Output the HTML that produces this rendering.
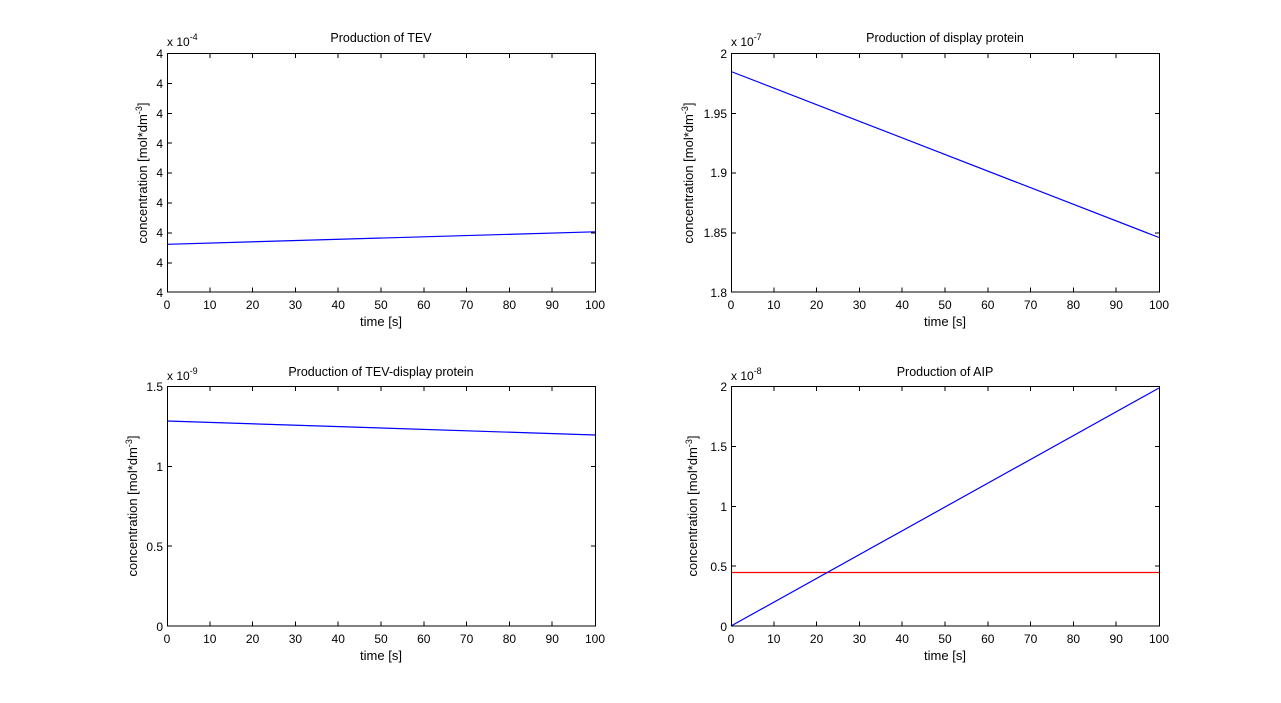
<!DOCTYPE html>
<html>
<head>
<meta charset="utf-8">
<style>
  html, body { margin: 0; padding: 0; background: #ffffff; }
  svg { display: block; }
  text { font-family: "Liberation Sans", Arial, sans-serif; fill: #000; }
  .tk { font-size: 12px; }
  .lb { font-size: 13px; }
  .ttl { font-size: 12.5px; }
</style>
</head>
<body>
<svg width="1281" height="703" viewBox="0 0 1281 703" xmlns="http://www.w3.org/2000/svg">
  <rect x="0" y="0" width="1281" height="703" fill="#ffffff"/>

  <!-- ============ TOP LEFT ============ -->
  <g>
    <text class="ttl" x="381" y="42" text-anchor="middle">Production of TEV</text>
    <text class="tk" x="167" y="46">x 10<tspan font-size="9" dy="-6">-4</tspan></text>
    <!-- data -->
    <polyline points="167,244.3 595,231.8" fill="none" stroke="#0000ff" stroke-width="1.2"/>
    <g stroke="#000" stroke-width="1" shape-rendering="crispEdges" fill="none">
      <rect x="167.5" y="53.5" width="428" height="238.5"/>
      <!-- x ticks -->
      <path d="M209.8,292 v-4.5 M252.6,292 v-4.5 M295.4,292 v-4.5 M338.2,292 v-4.5 M381,292 v-4.5 M423.8,292 v-4.5 M466.6,292 v-4.5 M509.4,292 v-4.5 M552.2,292 v-4.5
               M209.8,53.5 v4.5 M252.6,53.5 v4.5 M295.4,53.5 v4.5 M338.2,53.5 v4.5 M381,53.5 v4.5 M423.8,53.5 v4.5 M466.6,53.5 v4.5 M509.4,53.5 v4.5 M552.2,53.5 v4.5"/>
      <!-- y ticks -->
      <path d="M167.5,83.4 h4.5 M167.5,113.3 h4.5 M167.5,143.2 h4.5 M167.5,173.1 h4.5 M167.5,203 h4.5 M167.5,232.9 h4.5 M167.5,262.8 h4.5
               M595.5,83.4 h-4.5 M595.5,113.3 h-4.5 M595.5,143.2 h-4.5 M595.5,173.1 h-4.5 M595.5,203 h-4.5 M595.5,232.9 h-4.5 M595.5,262.8 h-4.5"/>
    </g>
    <g class="tk" text-anchor="end">
      <text x="163" y="58">4</text>
      <text x="163" y="88">4</text>
      <text x="163" y="118">4</text>
      <text x="163" y="148">4</text>
      <text x="163" y="177">4</text>
      <text x="163" y="207">4</text>
      <text x="163" y="237">4</text>
      <text x="163" y="267">4</text>
      <text x="163" y="297">4</text>
    </g>
    <g class="tk" text-anchor="middle">
      <text x="167" y="309">0</text>
      <text x="209.8" y="309">10</text>
      <text x="252.6" y="309">20</text>
      <text x="295.4" y="309">30</text>
      <text x="338.2" y="309">40</text>
      <text x="381" y="309">50</text>
      <text x="423.8" y="309">60</text>
      <text x="466.6" y="309">70</text>
      <text x="509.4" y="309">80</text>
      <text x="552.2" y="309">90</text>
      <text x="595" y="309">100</text>
    </g>
    <text class="lb" x="381" y="326" text-anchor="middle">time [s]</text>
    <text class="lb" transform="translate(147,173) rotate(-90)" text-anchor="middle">concentration [mol*dm<tspan font-size="9" dy="-5">-3</tspan><tspan dy="5">]</tspan></text>
  </g>

  <!-- ============ TOP RIGHT ============ -->
  <g>
    <text class="ttl" x="945" y="42" text-anchor="middle">Production of display protein</text>
    <text class="tk" x="731" y="46">x 10<tspan font-size="9" dy="-6">-7</tspan></text>
    <polyline points="731,71.5 1159,237.5" fill="none" stroke="#0000ff" stroke-width="1.2"/>
    <g stroke="#000" stroke-width="1" shape-rendering="crispEdges" fill="none">
      <rect x="731.5" y="53.5" width="428" height="238.5"/>
      <path d="M773.8,292 v-4.5 M816.6,292 v-4.5 M859.4,292 v-4.5 M902.2,292 v-4.5 M945,292 v-4.5 M987.8,292 v-4.5 M1030.6,292 v-4.5 M1073.4,292 v-4.5 M1116.2,292 v-4.5
               M773.8,53.5 v4.5 M816.6,53.5 v4.5 M859.4,53.5 v4.5 M902.2,53.5 v4.5 M945,53.5 v4.5 M987.8,53.5 v4.5 M1030.6,53.5 v4.5 M1073.4,53.5 v4.5 M1116.2,53.5 v4.5"/>
      <path d="M731.5,113.3 h4.5 M731.5,173.1 h4.5 M731.5,232.9 h4.5
               M1159.5,113.3 h-4.5 M1159.5,173.1 h-4.5 M1159.5,232.9 h-4.5"/>
    </g>
    <g class="tk" text-anchor="end">
      <text x="727" y="58">2</text>
      <text x="727" y="118">1.95</text>
      <text x="727" y="177">1.9</text>
      <text x="727" y="237">1.85</text>
      <text x="727" y="297">1.8</text>
    </g>
    <g class="tk" text-anchor="middle">
      <text x="731" y="309">0</text>
      <text x="773.8" y="309">10</text>
      <text x="816.6" y="309">20</text>
      <text x="859.4" y="309">30</text>
      <text x="902.2" y="309">40</text>
      <text x="945" y="309">50</text>
      <text x="987.8" y="309">60</text>
      <text x="1030.6" y="309">70</text>
      <text x="1073.4" y="309">80</text>
      <text x="1116.2" y="309">90</text>
      <text x="1159" y="309">100</text>
    </g>
    <text class="lb" x="945" y="326" text-anchor="middle">time [s]</text>
    <text class="lb" transform="translate(693,173) rotate(-90)" text-anchor="middle">concentration [mol*dm<tspan font-size="9" dy="-5">-3</tspan><tspan dy="5">]</tspan></text>
  </g>

  <!-- ============ BOTTOM LEFT ============ -->
  <g>
    <text class="ttl" x="381" y="376" text-anchor="middle">Production of TEV-display protein</text>
    <text class="tk" x="167" y="380">x 10<tspan font-size="9" dy="-6">-9</tspan></text>
    <polyline points="167,421 595,435" fill="none" stroke="#0000ff" stroke-width="1.2"/>
    <g stroke="#000" stroke-width="1" shape-rendering="crispEdges" fill="none">
      <rect x="167.5" y="386.5" width="428" height="239.5"/>
      <path d="M209.8,626 v-4.5 M252.6,626 v-4.5 M295.4,626 v-4.5 M338.2,626 v-4.5 M381,626 v-4.5 M423.8,626 v-4.5 M466.6,626 v-4.5 M509.4,626 v-4.5 M552.2,626 v-4.5
               M209.8,386.5 v4.5 M252.6,386.5 v4.5 M295.4,386.5 v4.5 M338.2,386.5 v4.5 M381,386.5 v4.5 M423.8,386.5 v4.5 M466.6,386.5 v4.5 M509.4,386.5 v4.5 M552.2,386.5 v4.5"/>
      <path d="M167.5,466.3 h4.5 M167.5,546.2 h4.5
               M595.5,466.3 h-4.5 M595.5,546.2 h-4.5"/>
    </g>
    <g class="tk" text-anchor="end">
      <text x="163" y="391">1.5</text>
      <text x="163" y="471">1</text>
      <text x="163" y="551">0.5</text>
      <text x="163" y="631">0</text>
    </g>
    <g class="tk" text-anchor="middle">
      <text x="167" y="643">0</text>
      <text x="209.8" y="643">10</text>
      <text x="252.6" y="643">20</text>
      <text x="295.4" y="643">30</text>
      <text x="338.2" y="643">40</text>
      <text x="381" y="643">50</text>
      <text x="423.8" y="643">60</text>
      <text x="466.6" y="643">70</text>
      <text x="509.4" y="643">80</text>
      <text x="552.2" y="643">90</text>
      <text x="595" y="643">100</text>
    </g>
    <text class="lb" x="381" y="660" text-anchor="middle">time [s]</text>
    <text class="lb" transform="translate(137,506) rotate(-90)" text-anchor="middle">concentration [mol*dm<tspan font-size="9" dy="-5">-3</tspan><tspan dy="5">]</tspan></text>
  </g>

  <!-- ============ BOTTOM RIGHT ============ -->
  <g>
    <text class="ttl" x="945" y="376" text-anchor="middle">Production of AIP</text>
    <text class="tk" x="731" y="380">x 10<tspan font-size="9" dy="-6">-8</tspan></text>
    <polyline points="731,572.5 1159,572.5" fill="none" stroke="#ff0000" stroke-width="1.2"/>
    <polyline points="731,626 1159,388" fill="none" stroke="#0000ff" stroke-width="1.2"/>
    <g stroke="#000" stroke-width="1" shape-rendering="crispEdges" fill="none">
      <rect x="731.5" y="386.5" width="428" height="239.5"/>
      <path d="M773.8,626 v-4.5 M816.6,626 v-4.5 M859.4,626 v-4.5 M902.2,626 v-4.5 M945,626 v-4.5 M987.8,626 v-4.5 M1030.6,626 v-4.5 M1073.4,626 v-4.5 M1116.2,626 v-4.5
               M773.8,386.5 v4.5 M816.6,386.5 v4.5 M859.4,386.5 v4.5 M902.2,386.5 v4.5 M945,386.5 v4.5 M987.8,386.5 v4.5 M1030.6,386.5 v4.5 M1073.4,386.5 v4.5 M1116.2,386.5 v4.5"/>
      <path d="M731.5,446.4 h4.5 M731.5,506.3 h4.5 M731.5,566.2 h4.5
               M1159.5,446.4 h-4.5 M1159.5,506.3 h-4.5 M1159.5,566.2 h-4.5"/>
    </g>
    <g class="tk" text-anchor="end">
      <text x="727" y="391">2</text>
      <text x="727" y="451">1.5</text>
      <text x="727" y="511">1</text>
      <text x="727" y="571">0.5</text>
      <text x="727" y="631">0</text>
    </g>
    <g class="tk" text-anchor="middle">
      <text x="731" y="643">0</text>
      <text x="773.8" y="643">10</text>
      <text x="816.6" y="643">20</text>
      <text x="859.4" y="643">30</text>
      <text x="902.2" y="643">40</text>
      <text x="945" y="643">50</text>
      <text x="987.8" y="643">60</text>
      <text x="1030.6" y="643">70</text>
      <text x="1073.4" y="643">80</text>
      <text x="1116.2" y="643">90</text>
      <text x="1159" y="643">100</text>
    </g>
    <text class="lb" x="945" y="660" text-anchor="middle">time [s]</text>
    <text class="lb" transform="translate(697,506) rotate(-90)" text-anchor="middle">concentration [mol*dm<tspan font-size="9" dy="-5">-3</tspan><tspan dy="5">]</tspan></text>
  </g>
</svg>
</body>
</html>
